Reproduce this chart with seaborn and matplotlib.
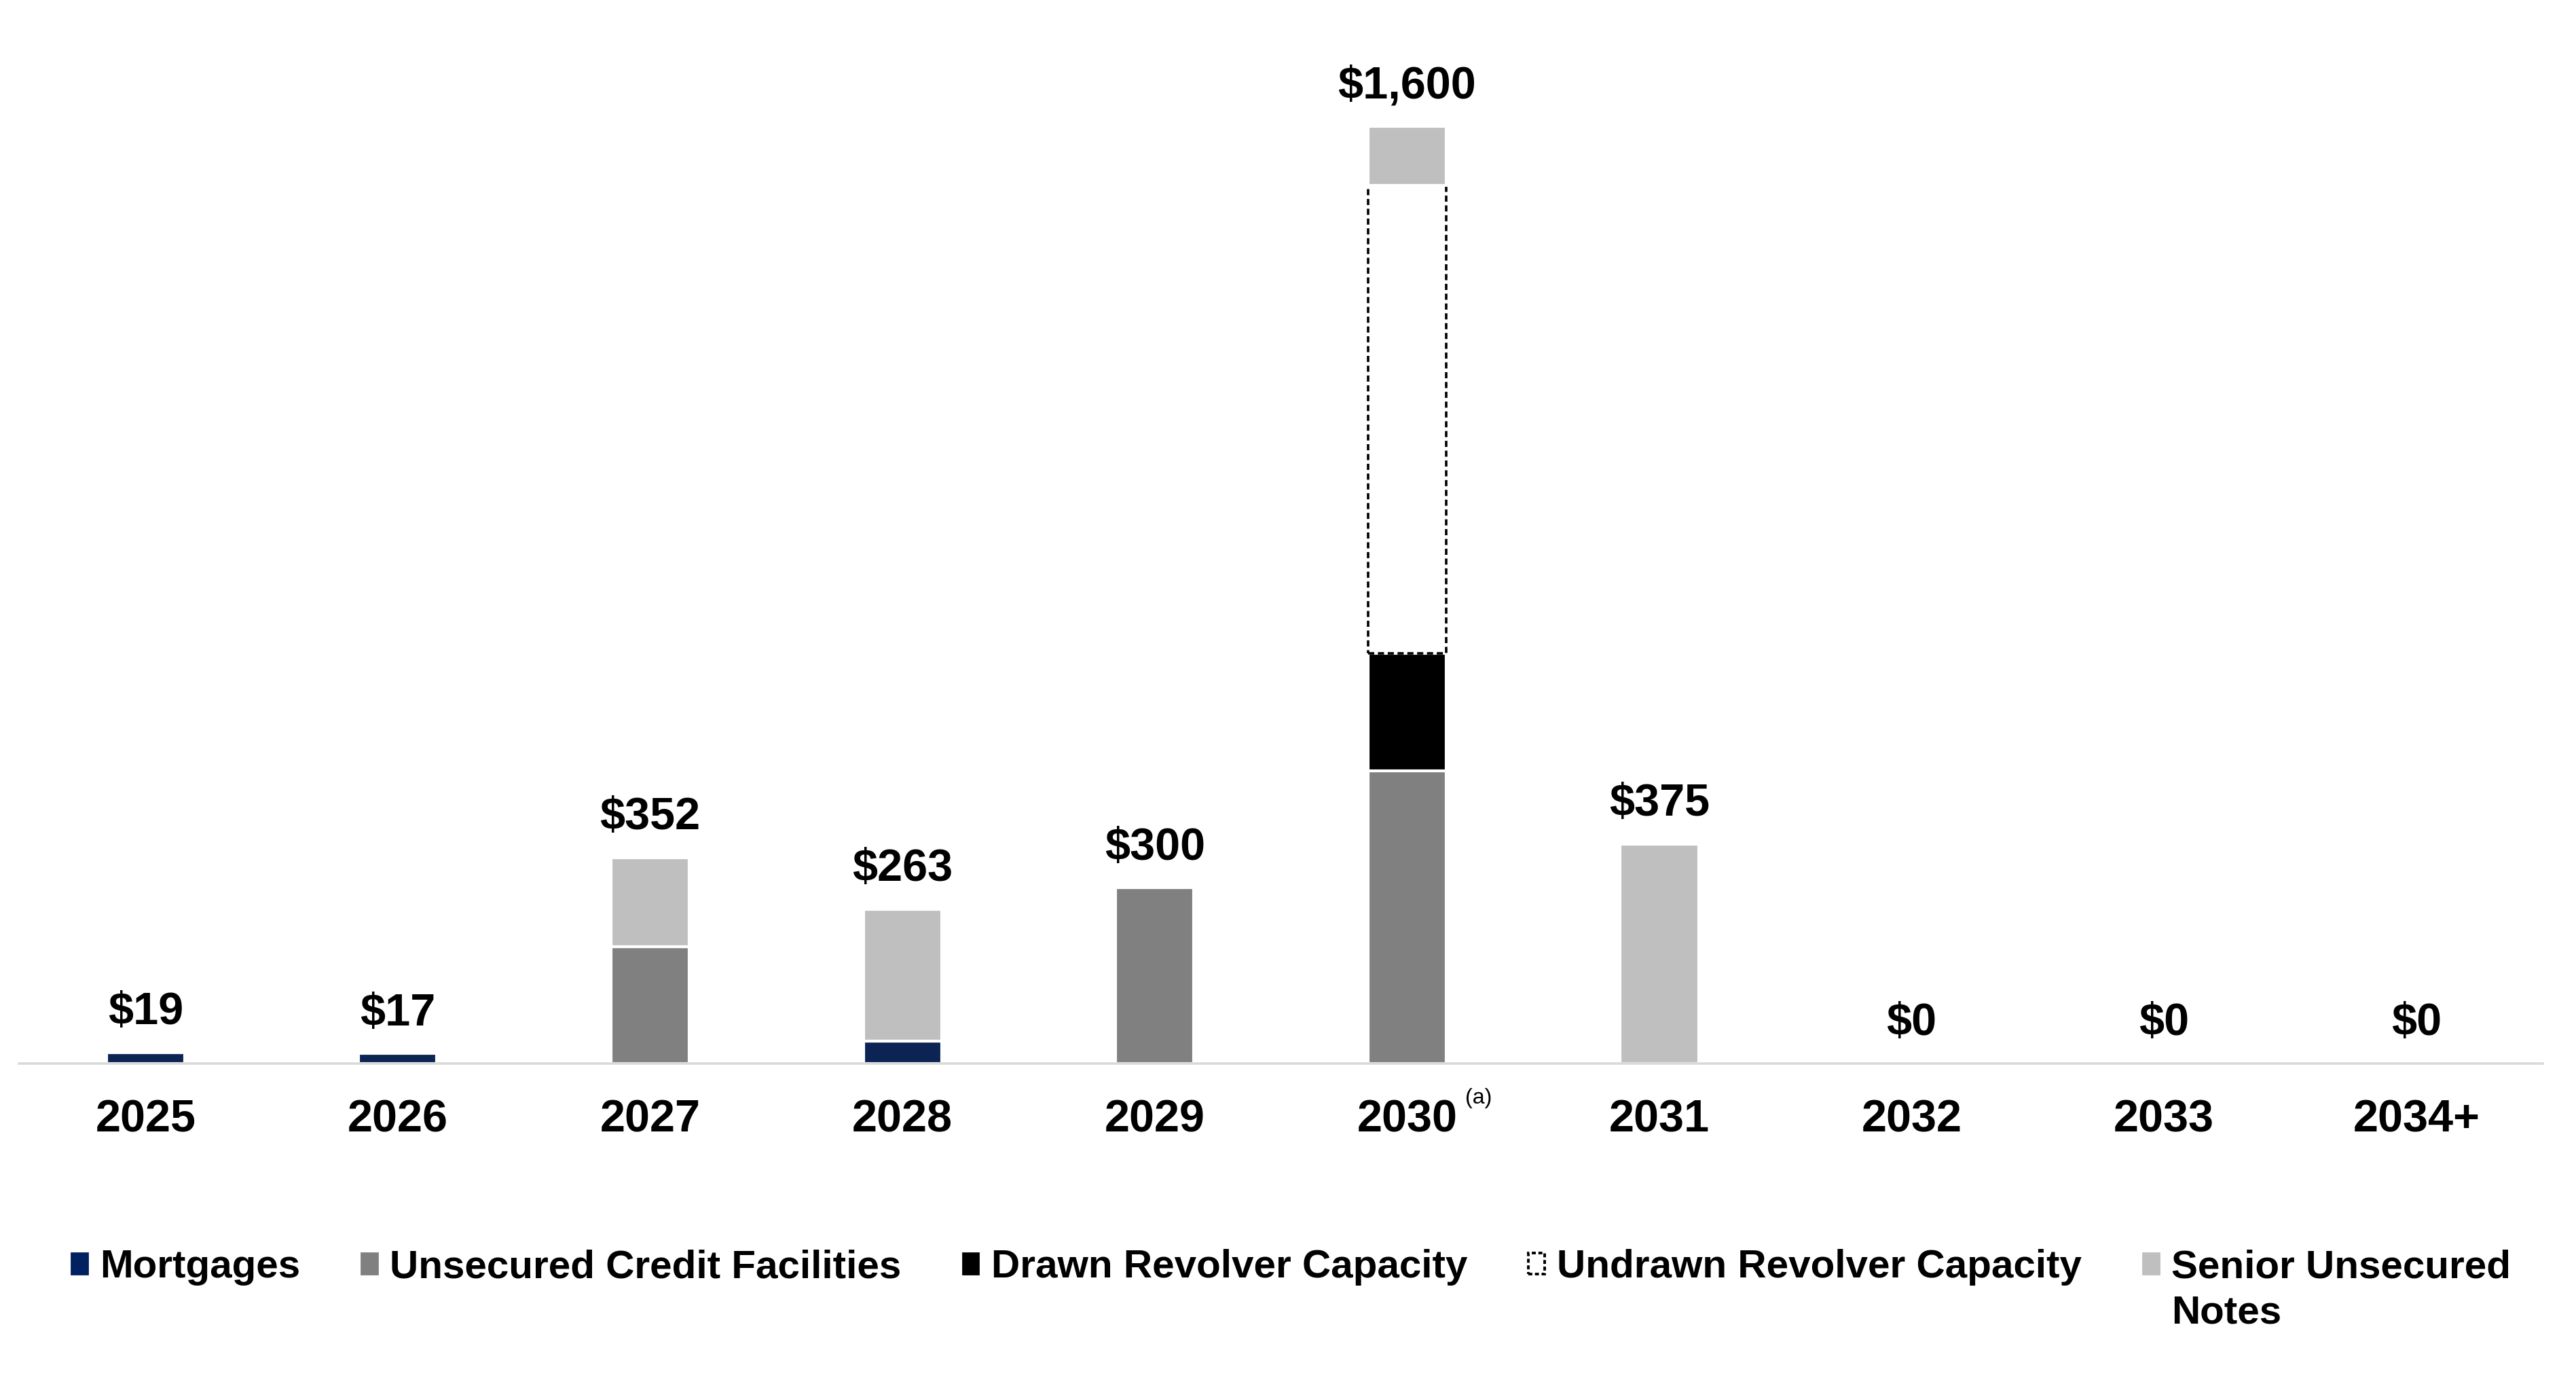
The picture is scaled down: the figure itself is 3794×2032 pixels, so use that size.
import matplotlib
matplotlib.use("Agg")
import matplotlib.pyplot as plt
from matplotlib.patches import Patch
import seaborn as sns
import numpy as np

years = ["2025", "2026", "2027", "2028", "2029", "2030", "2031", "2032", "2033", "2034+"]
mortgages = [19, 17, 0, 38, 0, 0, 0, 0, 0, 0]
unsecured_credit = [0, 0, 200, 0, 300, 500, 0, 0, 0, 0]
drawn_revolver = [0, 0, 0, 0, 0, 200, 0, 0, 0, 0]
undrawn_revolver = [0, 0, 0, 0, 0, 800, 0, 0, 0, 0]
senior_notes = [0, 0, 152, 225, 0, 100, 375, 0, 0, 0]
series_names = ["Mortgages", "Unsecured Credit Facilities", "Drawn Revolver Capacity",
                "Undrawn Revolver Capacity", "Senior Unsecured Notes"]

sns.set_theme(style="white")
plt.rcParams['font.family'] = ['Liberation Sans', 'DejaVu Sans']
plt.rcParams['text.color'] = 'black'

W, H, DPI = 3794, 2032, 200
fig = plt.figure(figsize=(W / DPI, H / DPI), dpi=DPI)
ax = fig.add_axes([0.0075, 0.2293, 0.9795, 0.7707])

NAVY = "#002060"
GRAY = "#808080"
BLACK = "#000000"
LIGHT = "#BFBFBF"

filled = dict(edgecolor="white", linewidth=1.5)
layers = [
    (mortgages, dict(color=NAVY, **filled)),
    (unsecured_credit, dict(color=GRAY, **filled)),
    (drawn_revolver, dict(color=BLACK, **filled)),
    (undrawn_revolver, dict(color="white", edgecolor="black", linewidth=1.3, linestyle=(0, (2.5, 1.5)))),
    (senior_notes, dict(color=LIGHT, **filled)),
]

yrs = np.array(years)
bottom = np.zeros(len(years))
for vals, style in layers:
    v = np.array(vals, dtype=float)
    m = v > 0
    if m.any():
        sns.barplot(x=yrs[m], y=v[m], order=years, bottom=bottom[m], width=0.31,
                    errorbar=None, ax=ax, **style)
    bottom = bottom + v

totals = bottom
for i, t in enumerate(totals):
    ax.annotate(f"${int(t):,}", xy=(i, t), xytext=(0, 10), textcoords="offset points",
                ha="center", va="bottom", fontsize=24, fontweight="bold", color="black")

ax.annotate("(a)", xy=(5, 0), xytext=(31, -13), textcoords="offset points",
            ha="left", va="top", fontsize=11.5, color="black")

ax.set_xlim(-0.5, len(years) - 0.5)
ax.set_ylim(0, 1816)
ax.set_yticks([])
ax.set_xlabel("")
ax.set_ylabel("")
for s in ["top", "left", "right"]:
    ax.spines[s].set_visible(False)
ax.spines["bottom"].set_color("#D9D9D9")
ax.spines["bottom"].set_linewidth(1.3)
ax.tick_params(axis="x", length=0, pad=18.7, labelsize=24, labelcolor="black")
for lab in ax.get_xticklabels():
    lab.set_fontweight("bold")
    lab.set_color("black")

handles = [
    Patch(facecolor=NAVY, edgecolor=NAVY),
    Patch(facecolor=GRAY, edgecolor=GRAY),
    Patch(facecolor=BLACK, edgecolor=BLACK),
    Patch(facecolor="white", edgecolor="black", linestyle=(0, (1.5, 1)), linewidth=1.4),
    Patch(facecolor=LIGHT, edgecolor=LIGHT),
]
leg_labels = series_names[:4] + ["Senior Unsecured"]
leg = fig.legend(handles, leg_labels, loc="center left", bbox_to_anchor=(0.0278, 0.0816),
                 ncol=5, frameon=False, handlelength=0.41, handleheight=0.44,
                 handletextpad=0.31, columnspacing=1.54, borderpad=0, borderaxespad=0,
                 prop={"weight": "bold", "size": 21}, labelcolor="black")

fig.canvas.draw()
t = leg.get_texts()[-1]
bx, by = t.get_transform().transform(t.get_position())
fig.text(bx / W, (by - 67) / H, "Notes", ha="left", va="baseline",
         fontsize=21, fontweight="bold", color="black")

fig.savefig("out.png", dpi=DPI)
